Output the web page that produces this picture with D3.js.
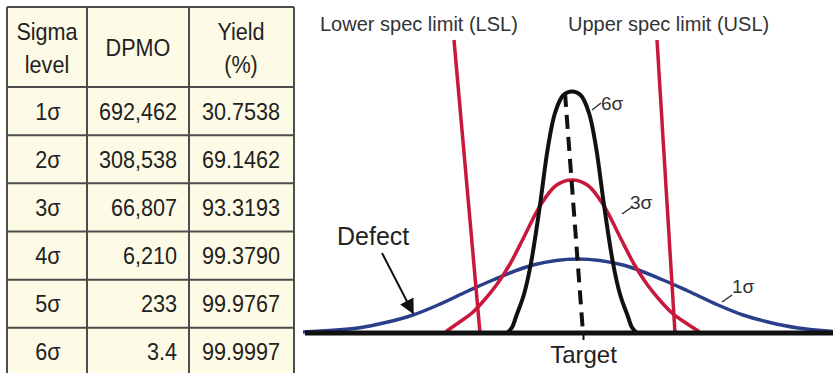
<!DOCTYPE html>
<html>
<head>
<meta charset="utf-8">
<script src="https://cdn.jsdelivr.net/npm/d3@7"></script>
<style>
  html, body { margin: 0; padding: 0; background: #ffffff; }
  svg { display: block; font-family: "Liberation Sans", Arial, Helvetica, sans-serif; }
</style>
</head>
<body>
<svg id="chart" width="833" height="373"></svg>
<script>
// ---- Table data ----
const sigmaLevels = ["1σ", "2σ", "3σ", "4σ", "5σ", "6σ"];
const dpmoValues = [692462, 308538, 66807, 6210, 233, 3.4];
const yieldValues = [30.7538, 69.1462, 93.3193, 99.3790, 99.9767, 99.9997];
const headerLines = [["Sigma", "level"], ["DPMO"], ["Yield", "(%)"]];

// ---- Distribution curves: [offset from target, relative density] ----
const curve1Sigma = [
  [-28.0, 0.4], [-22.5, 2.0], [-19.5, 4.4], [-17.0, 7.2], [-14.5, 11.2], [-11.5, 16.8],
  [-9.0, 21.2], [-5.0, 27.2], [-0.5, 29.6], [4.0, 27.2], [8.0, 21.2], [10.5, 16.8],
  [13.5, 11.2], [16.0, 7.2], [18.5, 4.4], [21.5, 2.0], [25.0, 0.6]
];
const curve3Sigma = [
  [-13.7, 0.6], [-12.3, 4.5], [-11.1, 8.0], [-9.8, 13.5], [-8.6, 19.5], [-7.3, 27.6],
  [-5.8, 39.2], [-4.3, 50.8], [-2.7, 59.0], [-1.1, 61.2], [0.5, 59.0], [2.1, 50.8],
  [3.6, 39.2], [5.1, 27.6], [6.4, 19.5], [7.6, 13.5], [8.9, 8.0], [10.1, 4.5], [11.6, 0.6]
];
const curve6Sigma = [
  [-7.6, 0], [-7.1, 2.2], [-6.7, 6.5], [-5.9, 15.5], [-5.2, 28.0], [-4.3, 51.2], [-3.5, 74.4],
  [-2.8, 88.0], [-2.0, 95.0], [-1.1, 96.6], [-0.2, 95.0], [0.6, 88.0], [1.3, 74.4],
  [2.1, 51.2], [3.0, 28.0], [3.7, 15.5], [4.5, 6.5], [4.9, 2.2], [5.4, 0]
];

// ---- Reference lines ----
const lowerSpecLine = [[-12.9, 117.2], [-10.3, 0]];
const upperSpecLine = [[7.4, 117.2], [9.2, 0]];
const targetLine = [[-1.8, 96], [0, 0]];
const targetValue = 0;

// ---- Labels ----
const specLabels = ["Lower spec limit (LSL)", "Upper spec limit (USL)"];
const curveLabels = ["1σ", "3σ", "6σ"];
const axisLabel = "Target";
const defectLabel = "Defect";

const svg = d3.select("#chart");

// =================== Table ===================
const colEdges = [7, 87, 189, 294];
const headerTop = 7, headerBottom = 87, tableBottom = 376;
const rowY = d3.scaleBand().domain(sigmaLevels).range([headerBottom, tableBottom]);
const fmtDpmo = d3.format(",");
const fmtYield = d3.format(".4f");
const tableInk = "#222";
const gridColor = "#4d4d4d";
const narrow = 0.9;   // the table uses a slightly condensed face

function cellText(g, tx, ty, anchor, str) {
  return g.append("text")
    .attr("transform", `translate(${tx},${ty}) scale(${narrow},1)`)
    .attr("text-anchor", anchor)
    .attr("font-size", 24).attr("fill", tableInk)
    .text(str);
}

const table = svg.append("g");
table.append("rect")
  .attr("x", colEdges[0]).attr("y", headerTop)
  .attr("width", colEdges[3] - colEdges[0]).attr("height", tableBottom - headerTop)
  .attr("fill", "#fdfbe5");

// header text
const headerCenters = [47, 138, 241];
headerLines.forEach((lines, i) => {
  if (lines.length === 2) {
    cellText(table, headerCenters[i], 40, "middle", lines[0]);
    cellText(table, headerCenters[i], 73, "middle", lines[1]);
  } else {
    cellText(table, headerCenters[i], 56, "middle", lines[0]);
  }
});

// body rows
sigmaLevels.forEach((lvl, i) => {
  const by = rowY(lvl) + rowY.bandwidth() / 2 + 8.5;
  cellText(table, 48, by, "middle", lvl);
  cellText(table, 177, by, "end", fmtDpmo(dpmoValues[i]));
  cellText(table, 280, by, "end", fmtYield(yieldValues[i]));
});

// grid lines
const hLines = [headerTop, headerBottom].concat(sigmaLevels.slice(1).map(d => rowY(d)));
table.selectAll("line.h").data(hLines).join("line").attr("class", "h")
  .attr("x1", colEdges[0]).attr("x2", colEdges[3])
  .attr("y1", d => d).attr("y2", d => d)
  .attr("stroke", gridColor).attr("stroke-width", 2);
table.selectAll("line.v").data(colEdges).join("line").attr("class", "v")
  .attr("x1", d => d).attr("x2", d => d)
  .attr("y1", headerTop).attr("y2", tableBottom)
  .attr("stroke", gridColor).attr("stroke-width", 2);

// =================== Distribution plot ===================
const x = d3.scaleLinear().domain([-28, 25]).range([303, 833]);
const y = d3.scaleLinear().domain([0, 100]).range([333, 83]);
const smooth = d3.line().x(d => x(d[0])).y(d => y(d[1])).curve(d3.curveCatmullRom.alpha(0.5));
const straight = d3.line().x(d => x(d[0])).y(d => y(d[1]));

const plot = svg.append("g");
const red = "#c8183c";
const blue = "#2a3f8a";

plot.append("path").datum(curve1Sigma).attr("d", smooth)
  .attr("fill", "none").attr("stroke", blue).attr("stroke-width", 3.5);
plot.append("path").datum(curve3Sigma).attr("d", smooth)
  .attr("fill", "none").attr("stroke", red).attr("stroke-width", 3.5);
plot.append("path").datum(curve6Sigma).attr("d", smooth)
  .attr("fill", "none").attr("stroke", "#111").attr("stroke-width", 4);

// spec limit lines
[lowerSpecLine, upperSpecLine].forEach(seg => {
  plot.append("path").datum(seg).attr("d", straight)
    .attr("fill", "none").attr("stroke", red).attr("stroke-width", 3.5);
});

// target centre line
plot.append("path").datum(targetLine).attr("d", straight)
  .attr("fill", "none").attr("stroke", "#111").attr("stroke-width", 4)
  .attr("stroke-dasharray", "14 8");

// baseline axis
const axis = d3.axisBottom(x).tickValues([targetValue]).tickSize(7).tickFormat(() => axisLabel);
const axisG = plot.append("g").attr("transform", `translate(0,${y(0)})`).call(axis);
axisG.select(".domain")
  .attr("d", `M${x.range()[0] + 2},0H${x.range()[1]}`)
  .attr("stroke", "#111").attr("stroke-width", 5);
axisG.selectAll(".tick line").attr("stroke", "#111").attr("stroke-width", 2);
axisG.selectAll(".tick text")
  .attr("y", 13).attr("dy", "0.71em")
  .attr("font-family", "\"Liberation Sans\", Arial, sans-serif")
  .attr("font-size", 24).attr("fill", "#222");

// spec limit titles
plot.append("text").attr("x", 320).attr("y", 31)
  .attr("font-size", 20).attr("fill", "#333").text(specLabels[0]);
plot.append("text").attr("x", 568).attr("y", 31)
  .attr("font-size", 20).attr("fill", "#333").text(specLabels[1]);

// curve labels with leaders
const labelSpots = [
  { text: curveLabels[0], lead: [[13.9, 12.4], [14.9, 15.2]], tx: 732, ty: 293 },
  { text: curveLabels[1], lead: [[3.9, 47.6], [4.9, 50.4]], tx: 630, ty: 209 },
  { text: curveLabels[2], lead: [[0.9, 89.2], [1.8, 92.0]], tx: 601, ty: 110 }
];
labelSpots.forEach(s => {
  plot.append("path").datum(s.lead).attr("d", straight)
    .attr("stroke", "#333").attr("stroke-width", 1.5).attr("fill", "none");
  plot.append("text").attr("x", s.tx).attr("y", s.ty)
    .attr("font-size", 19).attr("fill", "#333").text(s.text);
});

// defect annotation
const defs = svg.append("defs");
defs.append("marker").attr("id", "arrowHead")
  .attr("viewBox", "0 0 10 10").attr("refX", 9).attr("refY", 5)
  .attr("markerWidth", 20).attr("markerHeight", 15).attr("markerUnits", "userSpaceOnUse")
  .attr("orient", "auto")
  .append("path").attr("d", "M0,0L10,5L0,10Z").attr("fill", "#111");

plot.append("path").datum([[-20.1, 32.0], [-17.0, 8.0]]).attr("d", straight)
  .attr("stroke", "#111").attr("stroke-width", 2).attr("fill", "none")
  .attr("marker-end", "url(#arrowHead)");
plot.append("text").attr("x", 337).attr("y", 245)
  .attr("font-size", 25).attr("fill", "#222").text(defectLabel);
</script>
</body>
</html>
